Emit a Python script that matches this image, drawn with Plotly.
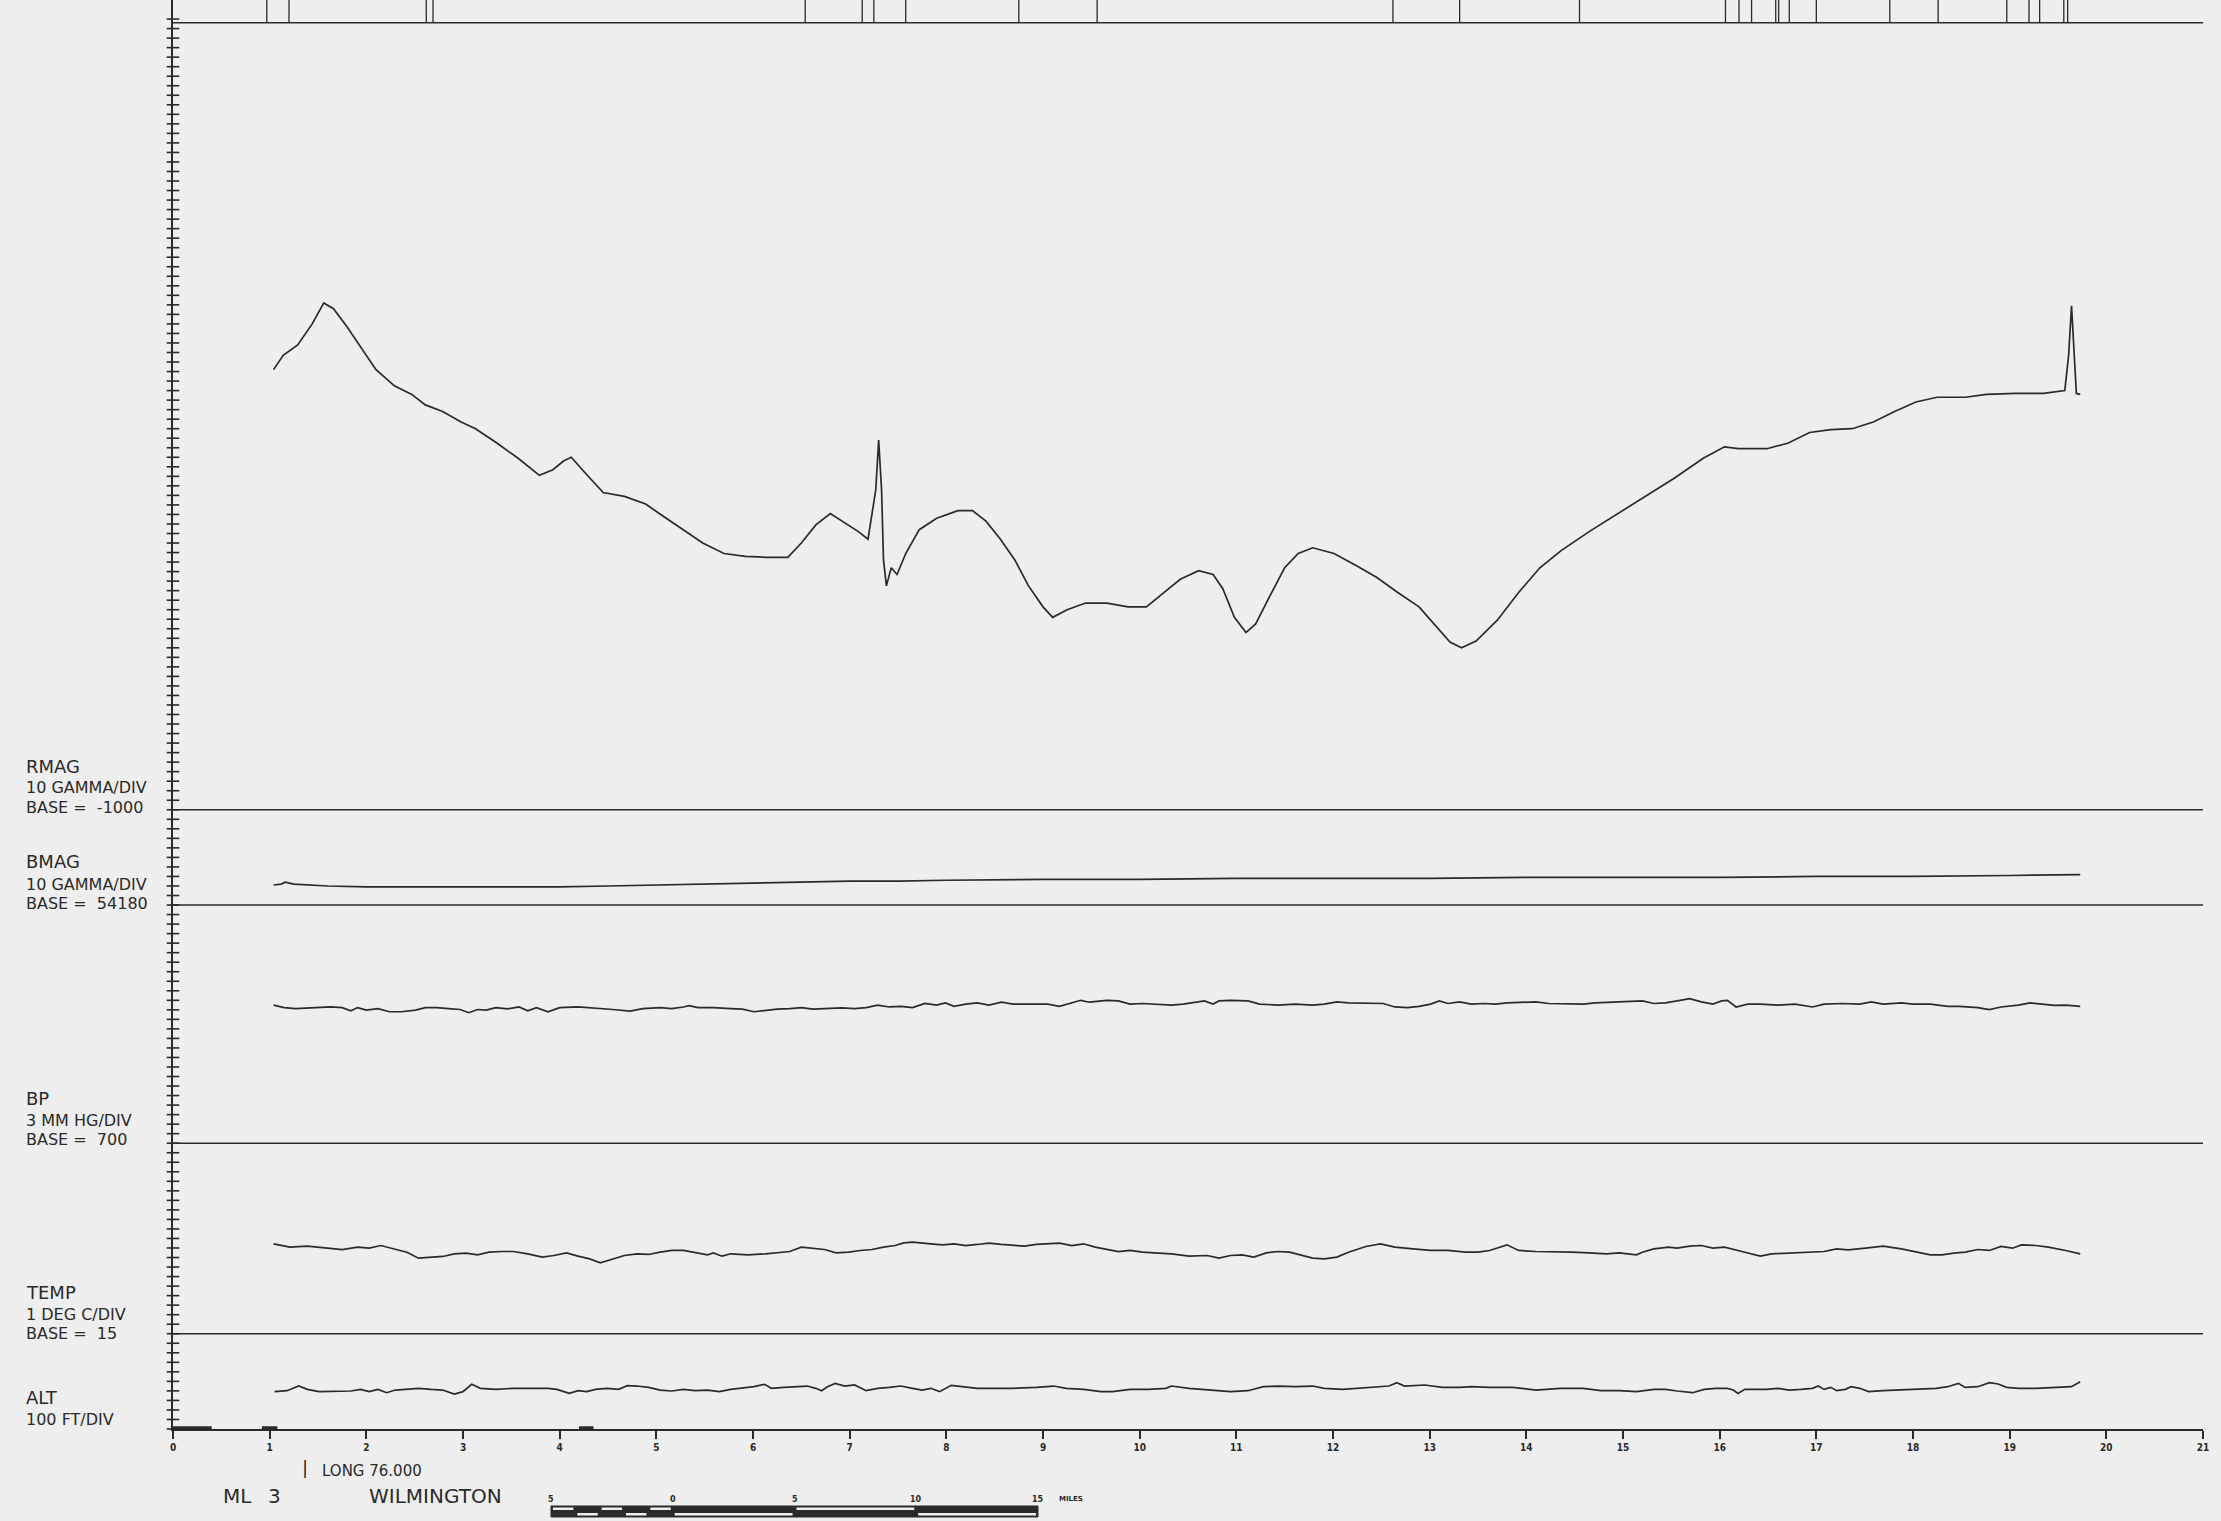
import plotly.graph_objects as go

INK = "#2a2a2a"
PAPER = "#eeeeee"
FONT = "DejaVu Sans"

# ---------------- data ----------------
x_ticks = list(range(0, 22))
x_tick_labels = [str(v) for v in x_ticks]

# fiducial marks along the top border (distance units)
fiducials = [0.97, 1.20, 2.62, 2.69, 6.54, 7.13, 7.25, 7.58, 8.75, 9.56, 12.62, 13.31, 14.55,
             16.06, 16.20, 16.33, 16.58, 16.61, 16.72, 17.00, 17.76, 18.26, 18.97, 19.20,
             19.31, 19.56, 19.60]

# RMAG (gamma)
rmag_x = [1.04, 1.14, 1.29, 1.44, 1.56, 1.66, 1.80, 1.95, 2.10, 2.29,
          2.47, 2.61, 2.79, 2.98, 3.13, 3.35, 3.57, 3.79, 3.93, 4.04,
          4.12, 4.26, 4.45, 4.67, 4.89, 5.03, 5.25, 5.48, 5.70, 5.92,
          6.14, 6.36, 6.50, 6.65, 6.80, 6.94, 7.09, 7.19, 7.27, 7.30,
          7.33, 7.35, 7.38, 7.43, 7.49, 7.58, 7.72, 7.90, 8.12, 8.27,
          8.41, 8.56, 8.71, 8.85, 9.00, 9.10, 9.25, 9.44, 9.66, 9.88,
          10.07, 10.25, 10.42, 10.61, 10.76, 10.86, 10.98, 11.10, 11.20, 11.35,
          11.50, 11.64, 11.79, 12.01, 12.23, 12.45, 12.67, 12.89, 13.07, 13.21,
          13.33, 13.48, 13.70, 13.92, 14.14, 14.36, 14.65, 14.95, 15.24, 15.53,
          15.83, 16.05, 16.19, 16.49, 16.71, 16.93, 17.15, 17.37, 17.59, 17.81,
          18.03, 18.25, 18.54, 18.76, 19.06, 19.35, 19.57, 19.61, 19.64, 19.67,
          19.69, 19.73]
rmag_gamma = [-538, -523, -512, -490, -468, -474, -493, -515, -538, -555,
              -564, -575, -582, -593, -600, -615, -631, -649, -643, -634,
              -630, -646, -667, -671, -679, -689, -704, -720, -731, -734,
              -735, -735, -720, -701, -689, -698, -708, -716, -664, -612,
              -664, -738, -765, -746, -753, -731, -706, -694, -686, -686,
              -697, -716, -738, -765, -787, -798, -790, -783, -783, -787,
              -787, -772, -758, -749, -753, -768, -798, -814, -805, -775,
              -746, -731, -725, -731, -743, -756, -772, -787, -808, -824,
              -830, -823, -801, -772, -746, -728, -708, -689, -671, -652,
              -631, -619, -621, -621, -615, -604, -601, -600, -593, -582,
              -572, -567, -567, -564, -563, -563, -560, -523, -471, -523,
              -563, -564]

# BMAG (gamma)
bmag_x = [1.04, 1.12, 1.16, 1.25, 1.6, 2.0, 2.5, 3.0, 3.5, 4.0, 4.5, 5.0, 5.5, 6.0, 6.5,
          7.0, 7.5, 8.0, 9.0, 10.0, 11.0, 12.0, 13.0, 14.0, 15.0, 16.0, 17.0, 18.0, 19.0, 19.73]
bmag_gamma = [54201, 54202, 54204, 54202, 54200, 54199, 54199, 54199, 54199, 54199, 54200,
              54201, 54202, 54203, 54204, 54205, 54205, 54206, 54207, 54207, 54208, 54208,
              54208, 54209, 54209, 54209, 54210, 54210, 54211, 54212]

# BP (mm Hg)
bp_x = [1.04, 1.15, 1.27, 1.45, 1.63, 1.75, 1.84, 1.91, 2.00, 2.12,
        2.24, 2.36, 2.51, 2.61, 2.73, 2.85, 2.97, 3.06, 3.15, 3.24,
        3.34, 3.46, 3.58, 3.67, 3.76, 3.88, 4.00, 4.19, 4.31, 4.43,
        4.55, 4.73, 4.86, 5.04, 5.16, 5.28, 5.34, 5.43, 5.59, 5.77,
        5.89, 6.01, 6.13, 6.25, 6.38, 6.50, 6.62, 6.74, 6.92, 7.05,
        7.17, 7.29, 7.41, 7.53, 7.65, 7.78, 7.90, 7.99, 8.08, 8.20,
        8.32, 8.44, 8.57, 8.69, 8.81, 8.93, 9.05, 9.17, 9.30, 9.39,
        9.48, 9.66, 9.78, 9.90, 10.03, 10.21,
        10.33, 10.45, 10.58, 10.67, 10.76, 10.82, 10.94, 11.12, 11.24, 11.43,
        11.61, 11.79, 11.91, 12.04, 12.16, 12.34, 12.52, 12.64, 12.77, 12.89,
        13.01, 13.10, 13.19, 13.31, 13.43, 13.56, 13.68, 13.80, 13.98, 14.10,
        14.23, 14.41, 14.59, 14.71, 14.89, 15.08, 15.20, 15.32, 15.44, 15.56,
        15.69, 15.81, 15.93, 16.02, 16.08, 16.17, 16.29, 16.42, 16.60, 16.78,
        16.96, 17.08, 17.27, 17.45, 17.57, 17.69, 17.88, 18.00, 18.18, 18.36,
        18.48, 18.67, 18.79, 18.91, 19.09, 19.21, 19.34, 19.46, 19.58, 19.73]
bp_mmhg = [743.5, 742.7, 742.4, 742.7, 742.9, 742.7, 741.7, 742.7, 741.9, 742.4,
           741.4, 741.4, 741.9, 742.7, 742.7, 742.4, 742.1, 741.1, 742.1, 741.9,
           742.7, 742.3, 742.9, 741.7, 742.7, 741.4, 742.7, 742.9, 742.7, 742.4,
           742.1, 741.6, 742.4, 742.7, 742.4, 742.9, 743.3, 742.7, 742.7, 742.4,
           742.2, 741.4, 741.9, 742.2, 742.4, 742.7, 742.2, 742.4, 742.6, 742.4,
           742.7, 743.5, 742.9, 743.1, 742.7, 744.0, 743.5, 744.2, 743.1, 743.8,
           744.2, 743.5, 744.4, 743.8, 743.8, 744.0, 743.8, 743.1, 744.2, 745.0,
           744.4, 745.0, 744.8, 743.8, 744.0, 743.8,
           743.5, 743.8, 744.5, 744.8, 743.8, 744.8, 745.0, 744.8, 743.8, 743.5,
           743.8, 743.5, 743.8, 744.5, 744.2, 744.0, 744.0, 742.9, 742.7, 743.1,
           743.8, 744.8, 744.0, 744.5, 743.8, 744.0, 743.8, 744.2, 744.4, 744.5,
           744.0, 743.8, 743.8, 744.2, 744.5, 744.8, 744.8, 744.0, 744.2, 744.8,
           745.5, 744.5, 743.8, 744.8, 745.0, 742.9, 743.8, 743.8, 743.5, 743.8,
           742.9, 743.8, 744.0, 743.8, 744.5, 743.8, 744.2, 743.8, 743.8, 743.1,
           743.1, 742.7, 742.1, 742.9, 743.5, 744.2, 743.8, 743.4, 743.5, 743.1]

# TEMP (deg C)
temp_x = [1.04, 1.21, 1.39, 1.57, 1.75, 1.91, 2.03, 2.15, 2.27, 2.42,
          2.54, 2.67, 2.79, 2.91, 3.03, 3.15, 3.27, 3.40, 3.52, 3.67,
          3.82, 3.94, 4.07, 4.19, 4.31, 4.42, 4.55, 4.67, 4.80, 4.92,
          5.04, 5.16, 5.28, 5.40, 5.53, 5.59, 5.68, 5.77, 5.95, 6.13,
          6.25, 6.38, 6.50, 6.62, 6.74, 6.86, 6.99, 7.11, 7.23, 7.35,
          7.47, 7.56, 7.65, 7.84, 7.96, 8.08, 8.20, 8.32, 8.44, 8.57,
          8.69, 8.81, 8.93, 9.05, 9.17, 9.30, 9.42, 9.54, 9.66, 9.78,
          9.90, 10.03, 10.15, 10.27,
          10.33, 10.51, 10.70, 10.82, 10.94, 11.06, 11.18, 11.31, 11.43, 11.55,
          11.67, 11.79, 11.91, 12.04, 12.16, 12.34, 12.49, 12.64, 12.83, 13.01,
          13.19, 13.37, 13.50, 13.62, 13.80, 13.92, 14.10, 14.29, 14.47, 14.65,
          14.83, 14.96, 15.14, 15.20, 15.32, 15.47, 15.56, 15.69, 15.81, 15.93,
          16.05, 16.23, 16.42, 16.54, 16.72, 16.90, 17.08, 17.21, 17.33, 17.51,
          17.69, 17.88, 18.06, 18.18, 18.30, 18.42, 18.54, 18.67, 18.79, 18.91,
          19.03, 19.12, 19.27, 19.40, 19.58, 19.73]
temp_degc = [24.44, 24.09, 24.19, 23.98, 23.84, 24.09, 23.98, 24.26, 23.98, 23.56,
             22.93, 23.04, 23.11, 23.39, 23.46, 23.28, 23.56, 23.63, 23.63, 23.39,
             23.04, 23.21, 23.49, 23.14, 22.86, 22.44, 22.86, 23.21, 23.39, 23.32,
             23.56, 23.74, 23.74, 23.49, 23.28, 23.49, 23.14, 23.39, 23.28, 23.39,
             23.49, 23.63, 24.09, 23.98, 23.84, 23.49, 23.56, 23.74, 23.84, 24.09,
             24.26, 24.54, 24.61, 24.44, 24.33, 24.44, 24.26, 24.37, 24.51, 24.37,
             24.26, 24.19, 24.37, 24.44, 24.51, 24.26, 24.44, 24.09, 23.84, 23.63,
             23.74, 23.56, 23.49, 23.39,
             23.39, 23.14, 23.21, 22.93, 23.21, 23.28, 23.04, 23.49, 23.63, 23.56,
             23.28, 22.93, 22.86, 23.04, 23.56, 24.16, 24.44, 24.09, 23.91, 23.74,
             23.74, 23.56, 23.56, 23.74, 24.33, 23.74, 23.63, 23.63, 23.56, 23.49,
             23.39, 23.49, 23.28, 23.56, 23.91, 24.09, 23.98, 24.19, 24.26, 23.98,
             24.09, 23.63, 23.14, 23.39, 23.49, 23.56, 23.63, 23.91, 23.81, 23.98,
             24.19, 23.91, 23.49, 23.28, 23.28, 23.46, 23.56, 23.84, 23.74, 24.16,
             23.98, 24.33, 24.26, 24.09, 23.74, 23.39]

# ALT (ft)
alt_x = [1.05, 1.18, 1.30, 1.39, 1.51, 1.69, 1.84, 1.94, 2.03, 2.12,
         2.21, 2.30, 2.42, 2.54, 2.67, 2.79, 2.91, 3.00, 3.09, 3.18,
         3.34, 3.52, 3.70, 3.88, 3.97, 4.10, 4.19, 4.28, 4.37, 4.49,
         4.61, 4.70, 4.80, 4.92, 5.04, 5.16, 5.28, 5.40, 5.53, 5.65,
         5.77, 5.89, 6.01, 6.12, 6.19, 6.32, 6.44, 6.56, 6.65, 6.71,
         6.77, 6.85, 6.95, 7.05, 7.17, 7.29, 7.41, 7.53, 7.65, 7.75,
         7.84, 7.93, 8.05, 8.17, 8.32, 8.51, 8.69, 8.93, 9.11, 9.24,
         9.42, 9.60, 9.72, 9.90, 10.09, 10.27,
         10.33, 10.51, 10.70, 10.94, 11.12, 11.28, 11.43, 11.61, 11.79, 11.91,
         12.10, 12.28, 12.46, 12.58, 12.66, 12.74, 12.95, 13.13, 13.31, 13.43,
         13.62, 13.86, 14.10, 14.35, 14.59, 14.77, 14.96, 15.14, 15.32, 15.44,
         15.56, 15.72, 15.84, 15.96, 16.08, 16.14, 16.19, 16.26, 16.35, 16.48,
         16.60, 16.72, 16.84, 16.96, 17.02, 17.08, 17.15, 17.21, 17.30, 17.36,
         17.45, 17.54, 17.69, 17.88, 18.06, 18.24, 18.36, 18.47, 18.54, 18.67,
         18.79, 18.88, 18.97, 19.09, 19.27, 19.46, 19.64, 19.73]
alt_ft = [392, 402, 451, 416, 392, 392, 399, 416, 392, 416,
          381, 409, 416, 427, 416, 409, 367, 392, 469, 427,
          416, 427, 427, 427, 416, 374, 402, 392, 416, 427,
          416, 455, 451, 437, 409, 399, 416, 402, 409, 392,
          416, 427, 444, 469, 427, 437, 444, 451, 427, 402,
          444, 479, 451, 462, 402, 427, 437, 451, 427, 409,
          427, 392, 458, 444, 427, 427, 427, 437, 451, 427,
          416, 392, 392, 416, 416, 427,
          451, 427, 409, 392, 402, 444, 451, 444, 451, 427,
          416, 427, 444, 451, 486, 451, 462, 437, 437, 444,
          437, 437, 409, 427, 427, 402, 402, 392, 416, 416,
          399, 381, 416, 427, 427, 409, 374, 416, 416, 416,
          427, 409, 416, 427, 451, 416, 437, 402, 416, 444,
          427, 392, 402, 409, 416, 427, 444, 479, 437, 444,
          486, 472, 437, 427, 427, 437, 444, 497]

# heavy pen strokes on the bottom baseline (start, end)
baseline_marks = [(0.0, 0.40), (0.92, 1.08), (4.20, 4.35)]

# channel scales: base value, units per chart division, division row of the base line
RMAG_BASE, RMAG_PER_DIV, RMAG_ROW = -1000, 10, 65
BMAG_BASE, BMAG_PER_DIV, BMAG_ROW = 54180, 10, 55
BP_BASE, BP_PER_DIV, BP_ROW = 700, 3, 30
TEMP_BASE, TEMP_PER_DIV, TEMP_ROW = 15, 1, 10
ALT_BASE, ALT_PER_DIV, ALT_ROW = 0, 100, 0
TOP_ROW = 147.6
Y_TICKS = list(range(0, 149))

channel_labels = [
    ("RMAG", "10 GAMMA/DIV", "BASE =  -1000", 766),
    ("BMAG", "10 GAMMA/DIV", "BASE =  54180", 862),
    ("BP", "3 MM HG/DIV", "BASE =  700", 1098),
    ("TEMP", "1 DEG C/DIV", "BASE =  15", 1292),
    ("ALT", "100 FT/DIV", None, 1397),
]

# scale bar (miles): segments with the white strip on top or bottom half
SCALE_MIN, SCALE_MAX = -5, 15
scale_upper_white = [(-5, -4), (-3, -2), (-1, 0), (5, 10)]
scale_lower_white = [(-4, -3), (-2, -1), (0, 5), (10, 15)]
scale_labels = [(-5, "5"), (0, "0"), (5, "5"), (10, "10"), (15, "15")]


def to_div(vals, base, per, row):
    return [row + (v - base) / per for v in vals]


# ---------------- figure ----------------
W, H = 2221, 1521
ML, MR, MT, MB = 173, 18, 0, 92
PH = H - MT - MB
PW = W - ML - MR


def py(px):  # page pixel row -> paper y
    return (H - MB - px) / PH


def px_(pxx):  # page pixel column -> paper x
    return (pxx - ML) / PW


SB0, SB1 = px_(551), px_(1038)  # scale-bar extent in paper units


def mi(m):  # miles -> paper x along the scale bar
    return SB0 + (m - SCALE_MIN) / (SCALE_MAX - SCALE_MIN) * (SB1 - SB0)


fig = go.Figure()
line_style = dict(color=INK, width=1.7)

# frame lines
for row in [TOP_ROW, RMAG_ROW, BMAG_ROW, BP_ROW, TEMP_ROW]:
    fig.add_trace(go.Scatter(x=[0, 21], y=[row, row], mode="lines",
                             line=dict(color=INK, width=1.5), hoverinfo="skip"))

# fiducial marks above top line
fx, fy = [], []
for f in fiducials:
    fx += [f, f, None]
    fy += [TOP_ROW, 151, None]
fig.add_trace(go.Scatter(x=fx, y=fy, mode="lines", line=dict(color=INK, width=1.3),
                         hoverinfo="skip"))

# heavy baseline strokes
for a, b in baseline_marks:
    fig.add_trace(go.Scatter(x=[a, b], y=[0.12, 0.12], mode="lines",
                             line=dict(color=INK, width=3.2), hoverinfo="skip"))

# data curves
fig.add_trace(go.Scatter(x=rmag_x, y=to_div(rmag_gamma, RMAG_BASE, RMAG_PER_DIV, RMAG_ROW),
                         mode="lines", line=line_style, name="RMAG"))
fig.add_trace(go.Scatter(x=bmag_x, y=to_div(bmag_gamma, BMAG_BASE, BMAG_PER_DIV, BMAG_ROW),
                         mode="lines", line=line_style, name="BMAG"))
fig.add_trace(go.Scatter(x=bp_x, y=to_div(bp_mmhg, BP_BASE, BP_PER_DIV, BP_ROW),
                         mode="lines", line=line_style, name="BP"))
fig.add_trace(go.Scatter(x=temp_x, y=to_div(temp_degc, TEMP_BASE, TEMP_PER_DIV, TEMP_ROW),
                         mode="lines", line=line_style, name="TEMP"))
fig.add_trace(go.Scatter(x=alt_x, y=to_div(alt_ft, ALT_BASE, ALT_PER_DIV, ALT_ROW),
                         mode="lines", line=line_style, name="ALT"))

# cross ticks on the left axis
fig.add_trace(go.Scatter(x=[0] * len(Y_TICKS), y=Y_TICKS, mode="markers", cliponaxis=False,
                         marker=dict(symbol="line-ew", size=9, color=INK,
                                     line=dict(color=INK, width=1.6)),
                         hoverinfo="skip"))

annotations = []
for name, l2, l3, ypx in channel_labels:
    annotations.append(dict(text=name, x=px_(24), y=py(ypx), xref="paper", yref="paper",
                            xanchor="left", yanchor="middle", showarrow=False,
                            font=dict(family=FONT, size=18, color=INK)))
    annotations.append(dict(text=l2, x=px_(24), y=py(ypx + 22), xref="paper", yref="paper",
                            xanchor="left", yanchor="middle", showarrow=False,
                            font=dict(family=FONT, size=16, color=INK)))
    if l3:
        annotations.append(dict(text=l3, x=px_(24), y=py(ypx + 41), xref="paper",
                                yref="paper", xanchor="left", yanchor="middle",
                                showarrow=False, font=dict(family=FONT, size=16, color=INK)))

bottom_texts = [
    ("|", 300, 1467, 18),
    ("LONG 76.000", 320, 1471, 15),
    ("ML", 221, 1496, 20),
    ("3", 266, 1496, 20),
    ("WILMINGTON", 367, 1496, 20),
]
for t, xx, yy, sz in bottom_texts:
    annotations.append(dict(text=t, x=px_(xx), y=py(yy), xref="paper", yref="paper",
                            xanchor="left", yanchor="middle", showarrow=False,
                            font=dict(family=FONT, size=sz, color=INK)))

# scale bar labels
for m, lab in scale_labels:
    annotations.append(dict(text="<b>%s</b>" % lab, x=mi(m), y=py(1499), xref="paper",
                            yref="paper", xanchor="center", yanchor="middle",
                            showarrow=False, font=dict(family=FONT, size=8, color=INK)))
annotations.append(dict(text="<b>MILES</b>", x=mi(15.8), y=py(1499), xref="paper",
                        yref="paper", xanchor="left", yanchor="middle", showarrow=False,
                        font=dict(family=FONT, size=7, color=INK)))

shapes = [dict(type="rect", xref="paper", yref="paper", x0=mi(SCALE_MIN), x1=mi(SCALE_MAX),
               y0=py(1517), y1=py(1506), fillcolor=INK, line=dict(color=INK, width=1))]
for a, b in scale_upper_white:
    shapes.append(dict(type="rect", xref="paper", yref="paper", x0=mi(a + 0.08),
                       x1=mi(b - 0.08), y0=py(1510), y1=py(1507.5), fillcolor=PAPER,
                       line=dict(width=0)))
for a, b in scale_lower_white:
    shapes.append(dict(type="rect", xref="paper", yref="paper", x0=mi(a + 0.08),
                       x1=mi(b - 0.08), y0=py(1515.5), y1=py(1513), fillcolor=PAPER,
                       line=dict(width=0)))

fig.update_layout(
    width=W, height=H, margin=dict(l=ML, r=MR, t=MT, b=MB, pad=0),
    paper_bgcolor=PAPER, plot_bgcolor=PAPER, showlegend=False,
    xaxis=dict(range=[0, 21], tickvals=x_ticks, ticktext=x_tick_labels, ticks="outside",
               ticklen=8, tickwidth=1.5, tickcolor=INK, showline=True, linecolor=INK,
               linewidth=1.5, showgrid=False, zeroline=False, fixedrange=True,
               tickfont=dict(family="DejaVu Sans Condensed, " + FONT, size=10, color=INK,
                             weight="bold")),
    yaxis=dict(range=[0, 150], showline=True, linecolor=INK, linewidth=1.5,
               showticklabels=False, ticks="", showgrid=False, zeroline=False,
               fixedrange=True),
    annotations=annotations, shapes=shapes,
)

fig.write_html(
    "out.html",
    config={"displayModeBar": False},
    post_script="document.body.style.margin='0';document.body.style.overflow='hidden';"
                "document.body.style.background='%s';" % PAPER,
)
